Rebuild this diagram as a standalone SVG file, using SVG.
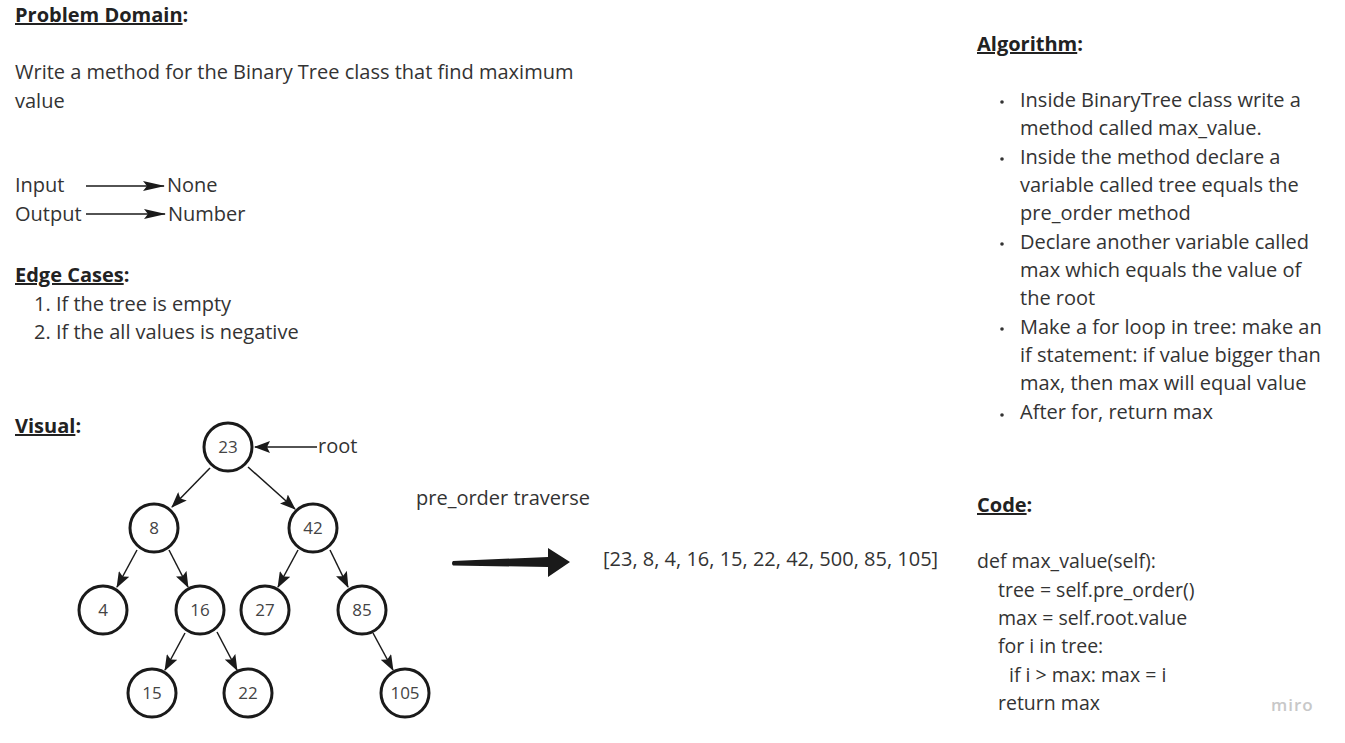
<svg xmlns="http://www.w3.org/2000/svg" width="1345" height="743" viewBox="0 0 1345 743">
<style>
text{font-family:"Open Sans","Liberation Sans",sans-serif;fill:#333;font-size:20px}
.h{font-weight:bold;fill:#222}
.u{text-decoration:underline}
.c{font-size:19.5px}
.n{font-size:17px;text-anchor:middle;fill:#444}
.node circle{fill:#fff;stroke:#1a1a1a;stroke-width:3}
.edge{stroke:#1a1a1a;stroke-width:1.5;fill:none;marker-end:url(#ah)}
.io{stroke:#1a1a1a;stroke-width:1.5;fill:none;marker-end:url(#ah2)}
</style>
<defs>
<marker id="ah" viewBox="0 0 16 12" refX="15" refY="6" markerWidth="16" markerHeight="12" markerUnits="userSpaceOnUse" orient="auto">
<path d="M0,0 L16,6 L0,12 L3,6 Z" fill="#1a1a1a"/>
</marker>
<marker id="ah2" viewBox="0 0 22 10" refX="21" refY="5" markerWidth="22" markerHeight="10" markerUnits="userSpaceOnUse" orient="auto">
<path d="M0,0 L22,5 L0,10 L4,5 Z" fill="#1a1a1a"/>
</marker>
</defs>
<rect width="1345" height="743" fill="#fff"/>

<g id="problem-domain">
<text x="15" y="22" class="h"><tspan class="u">Problem Domain</tspan>:</text>
<text x="15" y="79">Write a method for the Binary Tree class that find maximum</text>
<text x="15" y="108">value</text>
<text x="15" y="192">Input</text>
<text x="15" y="221">Output</text>
<text x="167" y="192">None</text>
<text x="168" y="221">Number</text>
</g>

<g id="edge-cases">
<text x="15" y="282" class="h"><tspan class="u">Edge Cases</tspan>:</text>
<text x="34" y="311">1. If the tree is empty</text>
<text x="34" y="339">2. If the all values is negative</text>
</g>

<g id="visual-label">
<text x="15" y="433" class="h"><tspan class="u">Visual</tspan>:</text>
<text x="318" y="453">root</text>
<text x="416" y="505">pre_order traverse</text>
<text x="603" y="566">[23, 8, 4, 16, 15, 22, 42, 500, 85, 105]</text>
</g>

<g id="connectors">
<line class="io" x1="86" y1="186" x2="164" y2="186"/>
<line class="io" x1="86" y1="214" x2="165" y2="214"/>
<line class="edge" x1="317" y1="447" x2="255" y2="447"/>
<line class="edge" x1="210" y1="468" x2="172" y2="507"/>
<line class="edge" x1="248" y1="467" x2="295" y2="509"/>
<line class="edge" x1="137" y1="550" x2="117" y2="587"/>
<line class="edge" x1="169" y1="550" x2="188" y2="587"/>
<line class="edge" x1="298" y1="550" x2="278" y2="587"/>
<line class="edge" x1="330" y1="550" x2="348" y2="587"/>
<line class="edge" x1="185" y1="633" x2="165" y2="670"/>
<line class="edge" x1="217" y1="632" x2="237" y2="670"/>
<line class="edge" x1="373" y1="633" x2="393" y2="670"/>
<path d="M453,561 L548,557 L548,548 L570,562 L548,577 L548,567 L453,565.5 Q451,563 453,561 Z" fill="#1a1a1a"/>
</g>

<g id="n23" class="node"><circle cx="228" cy="447" r="24"/><text class="n" x="228" y="453">23</text></g>
<g id="n8" class="node"><circle cx="154" cy="528" r="24"/><text class="n" x="154" y="534">8</text></g>
<g id="n42" class="node"><circle cx="313" cy="528" r="24"/><text class="n" x="313" y="534">42</text></g>
<g id="n4" class="node"><circle cx="103" cy="610" r="24"/><text class="n" x="103" y="616">4</text></g>
<g id="n16" class="node"><circle cx="200" cy="610" r="24"/><text class="n" x="200" y="616">16</text></g>
<g id="n27" class="node"><circle cx="265" cy="610" r="24"/><text class="n" x="265" y="616">27</text></g>
<g id="n85" class="node"><circle cx="362" cy="610" r="24"/><text class="n" x="362" y="616">85</text></g>
<g id="n15" class="node"><circle cx="152" cy="693" r="24"/><text class="n" x="152" y="699">15</text></g>
<g id="n22" class="node"><circle cx="248" cy="693" r="24"/><text class="n" x="248" y="699">22</text></g>
<g id="n105" class="node"><circle cx="405" cy="693" r="24"/><text class="n" x="405" y="699">105</text></g>

<g id="algorithm">
<text x="977" y="51" class="h"><tspan class="u">Algorithm</tspan>:</text>
<g fill="#333">
<circle cx="1002" cy="102" r="1.8"/><circle cx="1002" cy="159" r="1.8"/><circle cx="1002" cy="244" r="1.8"/><circle cx="1002" cy="329" r="1.8"/><circle cx="1002" cy="415" r="1.8"/>
</g>
<text x="1020" y="107">Inside BinaryTree class write a</text>
<text x="1020" y="135">method called max_value.</text>
<text x="1020" y="164">Inside the method declare a</text>
<text x="1020" y="192">variable called tree equals the</text>
<text x="1020" y="220">pre_order method</text>
<text x="1020" y="249">Declare another variable called</text>
<text x="1020" y="277">max which equals the value of</text>
<text x="1020" y="305">the root</text>
<text x="1020" y="334">Make a for loop in tree: make an</text>
<text x="1020" y="362">if statement: if value bigger than</text>
<text x="1020" y="390">max, then max will equal value</text>
<text x="1020" y="419">After for, return max</text>
</g>

<g id="code">
<text x="977" y="512" class="h"><tspan class="u">Code</tspan>:</text>
<text x="977" y="568" class="c">def max_value(self):</text>
<text x="998" y="597" class="c">tree = self.pre_order()</text>
<text x="998" y="625" class="c">max = self.root.value</text>
<text x="998" y="653" class="c">for i in tree:</text>
<text x="1009" y="682" class="c">if i &gt; max: max = i</text>
<text x="998" y="710" class="c">return max</text>
<text x="1271" y="711" style="font-size:17px;font-weight:600;fill:#c8c8c8;letter-spacing:1px">miro</text>
</g>
</svg>
